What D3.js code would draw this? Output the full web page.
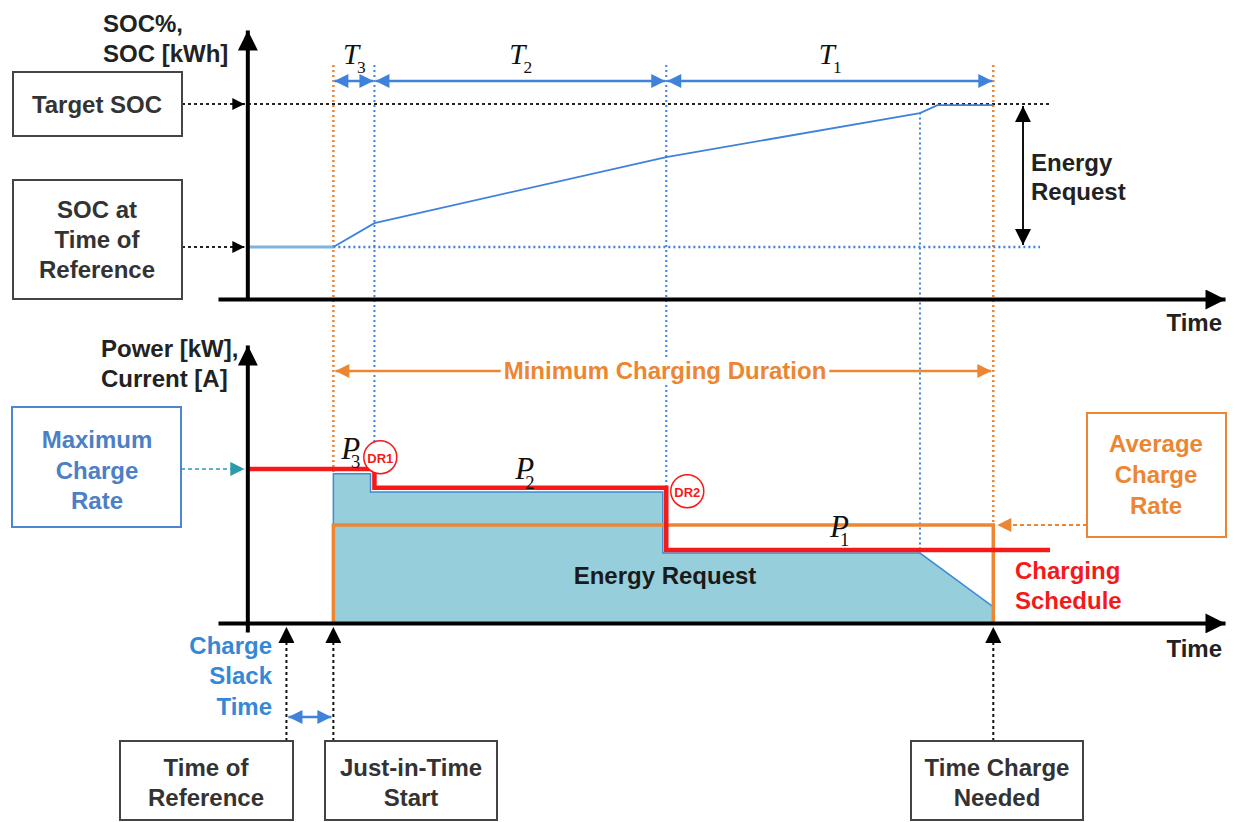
<!DOCTYPE html>
<html><head><meta charset="utf-8">
<script src="https://cdn.jsdelivr.net/npm/d3@7"></script>
<style>
body{margin:0;background:#fff}
text{font-family:"Liberation Sans",Arial,sans-serif;font-weight:bold}
</style>
</head><body><svg id="c" width="1235" height="822"></svg>
<script>
// ---------- data (abstract time / level units) ----------
const phaseBounds = [8.8, 13, 42.85, 76.3];          // JIT start, T3|T2, T2|T1, time charge needed
const phaseNames  = [["T","3"],["T","2"],["T","1"]];
const socT = [0, 8.8, 13, 42.85, 68.8, 70.6, 76.3];
const socV = [20, 20, 29.2, 54.6, 71.5, 74.6, 74.6];
const socTarget = 75, socRef = 20;
const schedT = [0, 13, 13, 42.85, 42.85, 82.1];
const schedP = [59.3, 59.3, 52, 52, 28.1, 28.1];
const energyT = [8.8, 8.8, 12.6, 12.6, 42.5, 42.5, 68.8, 76.3, 76.3];
const energyP = [0, 57.4, 57.4, 50.4, 50.4, 26.9, 26.9, 6.2, 0];
const avgRate = 37.7;
const maxRate = 59.3;
const pLabels = [["P","3"],["P","2"],["P","1"]];
const pLabelT = [9.6, 27.4, 59.6];
const pLabelV = [63.3, 55.3, 33.0];
const drNames = ["DR1","DR2"];
const drT = [13.6, 45.0];
const drV = [63.8, 50.7];
const refT = 4, jitT = 8.8, neededT = 76.3;
const minDurV = 97;

// ---------- scales ----------
const x = d3.scaleLinear().domain([-3, 100]).range([218, 1225]);
const yS = d3.scaleLinear().domain([0, 103.5]).range([299, 30]);
const yP = d3.scaleLinear().domain([-3.5, 107]).range([632, 345]);

const C = {orange:"#EC8633", blue:"#3F82DB", red:"#F51A1A", fill:"#97CEDB", outline:"#3F8AD2",
           box:"#444", txt:"#333", teal:"#2B9AAA", maxTxt:"#4C7FC6", slack:"#3588D6"};
const FS = 24;

const svg = d3.select("#c");
const defs = svg.append("defs");
function marker(id, color, w, h){
  defs.append("marker").attr("id",id).attr("viewBox","0 0 10 10").attr("refX",10).attr("refY",5)
    .attr("markerUnits","userSpaceOnUse").attr("markerWidth",w).attr("markerHeight",h)
    .attr("orient","auto-start-reverse")
    .append("path").attr("d","M0,0L10,5L0,10z").attr("fill",color);
}
marker("axA","#000",26,20);
marker("blk","#000",16,16);
marker("blu",C.blue,16,14);
marker("org",C.orange,18,14);
marker("teal",C.teal,16,14);
marker("blkS","#000",12,14);

function line(x1,y1,x2,y2,stroke,w,dash){
  return svg.append("line").attr("x1",x1).attr("y1",y1).attr("x2",x2).attr("y2",y2)
    .attr("stroke",stroke).attr("stroke-width",w).attr("stroke-dasharray",dash||null);
}
function txt(s,xx,yy,opt){
  opt=opt||{};
  return svg.append("text").attr("x",xx).attr("y",yy).text(s)
    .attr("text-anchor",opt.anchor||"middle").attr("dominant-baseline","central")
    .attr("font-size",opt.size||FS).attr("fill",opt.fill||C.txt);
}
function box(x0,y0,x1,y1,stroke){
  svg.append("rect").attr("x",x0).attr("y",y0).attr("width",x1-x0).attr("height",y1-y0)
    .attr("fill","#fff").attr("stroke",stroke).attr("stroke-width",2);
}
function italicSub(arr,xx,yy,size,dx){
  const t = svg.append("text").attr("x",xx).attr("y",yy)
    .style("font-family","'Liberation Serif','Times New Roman',serif").style("font-weight","normal")
    .attr("font-size",size).attr("fill","#111");
  t.append("tspan").attr("font-style","italic").text(arr[0]);
  t.append("tspan").attr("font-size",size*0.6).attr("dx",dx).attr("dy",size*0.3).text(arr[1]);
}

// ---------- bottom panel fills ----------
const area = d3.line().x((d,i)=>x(energyT[i])).y((d,i)=>yP(energyP[i]));
svg.append("path").attr("d",area(energyT)).attr("fill",C.fill).attr("stroke",C.outline).attr("stroke-width",1.5);

// vertical reference lines
line(x(phaseBounds[0]),65,x(phaseBounds[0]),yP(57.4),C.orange,2.5,"2,3");
line(x(phaseBounds[1]),65,x(phaseBounds[1]),yP(maxRate)-2,C.blue,2,"2,3");
line(x(phaseBounds[2]),65,x(phaseBounds[2]),yP(52)-2,C.blue,2,"2,3");
line(x(68.8),yS(71.8),x(68.8),yP(26.9),C.blue,2,"2,3");
line(x(phaseBounds[3]),65,x(phaseBounds[3]),yP(avgRate),C.orange,2.5,"2,3");

// avg charge rate rectangle
const avgPath = d3.line().x(d=>x(d[0])).y(d=>yP(d[1]));
svg.append("path").attr("d",avgPath([[jitT,0],[jitT,avgRate],[neededT,avgRate],[neededT,0]]))
  .attr("fill","none").attr("stroke",C.orange).attr("stroke-width",3.5);

// charging schedule
const sched = d3.line().x((d,i)=>x(schedT[i])).y((d,i)=>yP(schedP[i]));
svg.append("path").attr("d",sched(schedT)).attr("fill","none").attr("stroke",C.red).attr("stroke-width",4.5);

// ---------- top panel ----------
line(182,yS(socTarget),1050,yS(socTarget),"#222",2,"3,3");
line(182,yS(socRef),240,yS(socRef),"#222",2,"3,3");
line(238,yS(socTarget),x(0)-3,yS(socTarget),"#000",2).attr("marker-end","url(#blkS)");
line(238,yS(socRef),x(0)-3,yS(socRef),"#000",2).attr("marker-end","url(#blkS)");
line(x(jitT),yS(socRef),1040,yS(socRef),C.blue,2.5,"2,3");
line(x(0),yS(socRef),x(jitT),yS(socRef),"#7BB4E0",3);
const soc = d3.line().x(d=>x(d[0])).y(d=>yS(d[1]));
svg.append("path")
  .attr("d",soc(socT.slice(1).map((t,i)=>[t,socV[i+1]])))
  .attr("fill","none").attr("stroke",C.blue).attr("stroke-width",1.8);

// T arrows
const yT = 81;
for(let i=0;i<3;i++){
  line(x(phaseBounds[i])+1,yT,x(phaseBounds[i+1])-1,yT,C.blue,2.5)
    .attr("marker-start","url(#blu)").attr("marker-end","url(#blu)");
  const mid=(x(phaseBounds[i])+x(phaseBounds[i+1]))/2;
  italicSub(phaseNames[i], mid-11, 64, 29, -2);
}

// energy request double arrow
line(1023,yS(socTarget)+2,1023,yS(socRef)-2,"#111",2).attr("marker-start","url(#blk)").attr("marker-end","url(#blk)");
txt("Energy",1031,162,{anchor:"start",fill:"#222"});
txt("Request",1031,191,{anchor:"start",fill:"#222"});

// axes
svg.append("g").attr("transform","translate(0,"+yS(0)+")").call(d3.axisBottom(x).tickValues([]).tickSizeOuter(0));
svg.append("g").attr("transform","translate("+x(0)+",0)").call(d3.axisLeft(yS).tickValues([]).tickSizeOuter(0));
svg.append("g").attr("transform","translate(0,"+yP(0)+")").call(d3.axisBottom(x).tickValues([]).tickSizeOuter(0));
svg.append("g").attr("transform","translate("+x(0)+",0)").call(d3.axisLeft(yP).tickValues([]).tickSizeOuter(0));
svg.selectAll(".domain").attr("stroke","#000").attr("stroke-width",4).attr("marker-end","url(#axA)");
txt("Time",1222,322,{anchor:"end",fill:"#222"});
txt("Time",1222,648,{anchor:"end",fill:"#222"});
txt("SOC%,",103,23,{anchor:"start",fill:"#222"});
txt("SOC [kWh]",103,53,{anchor:"start",fill:"#222"});
txt("Power [kW],",101,348,{anchor:"start",fill:"#222"});
txt("Current [A]",101,378,{anchor:"start",fill:"#222"});

// boxes top
box(13,72,182,136,C.box);
txt("Target SOC",97,104);
box(13,180,182,299,C.box);
txt("SOC at",97,209); txt("Time of",97,239); txt("Reference",97,269);

// min charging duration
line(x(jitT)+2,yP(minDurV),x(neededT)-2,yP(minDurV),C.orange,2.5)
  .attr("marker-start","url(#org)").attr("marker-end","url(#org)");
const md = txt("Minimum Charging Duration",665,yP(minDurV),{fill:C.orange});
const bb = md.node().getBBox();
svg.append("rect").attr("x",bb.x-3).attr("y",bb.y+2).attr("width",bb.width+6).attr("height",bb.height-4).attr("fill","#fff");
md.raise();

// max charge rate
box(12,407,181,527,"#4C85D0");
txt("Maximum",97,439,{fill:C.maxTxt}); txt("Charge",97,470,{fill:C.maxTxt}); txt("Rate",97,500,{fill:C.maxTxt});
line(181,yP(maxRate),x(0)-3,yP(maxRate),C.teal,1.5,"4,3").attr("marker-end","url(#teal)");

// avg charge rate
box(1087,413,1226,537,C.orange);
txt("Average",1156,443,{fill:C.orange}); txt("Charge",1156,474,{fill:C.orange}); txt("Rate",1156,505,{fill:C.orange});
line(1087,yP(avgRate),x(neededT)+4,yP(avgRate),C.orange,2,"4,3").attr("marker-end","url(#org)");

// labels inside bottom chart
txt("Energy Request",665,575,{fill:"#1a1a1a"});
txt("Charging",1015,570,{anchor:"start",fill:C.red});
txt("Schedule",1015,600,{anchor:"start",fill:C.red});
pLabels.forEach((p,i)=>italicSub(p,x(pLabelT[i]),yP(pLabelV[i]),31,-9));
drNames.forEach((d,i)=>{
  svg.append("circle").attr("cx",x(drT[i])).attr("cy",yP(drV[i])).attr("r",16.5)
    .attr("fill","#fff").attr("stroke",C.red).attr("stroke-width",1.5);
  txt(d,x(drT[i]),yP(drV[i])+1,{fill:C.red,size:13}).attr("font-weight","normal");
});

// bottom time markers
[refT,jitT,neededT].forEach(t=>{
  line(x(t),741,x(t),yP(0)+4,"#111",2,"3,3").attr("marker-end","url(#blk)");
});
line(x(refT)+2,717,x(jitT)-2,717,C.blue,2.5).attr("marker-start","url(#blu)").attr("marker-end","url(#blu)");
txt("Charge",272,645,{anchor:"end",fill:C.slack});
txt("Slack",272,675,{anchor:"end",fill:C.slack});
txt("Time",272,706,{anchor:"end",fill:C.slack});
box(120,741,293,820,C.box); txt("Time of",206,767); txt("Reference",206,797);
box(325,741,497,820,C.box); txt("Just-in-Time",411,767); txt("Start",411,797);
box(911,741,1083,820,C.box); txt("Time Charge",997,767); txt("Needed",997,797);
</script></body></html>
